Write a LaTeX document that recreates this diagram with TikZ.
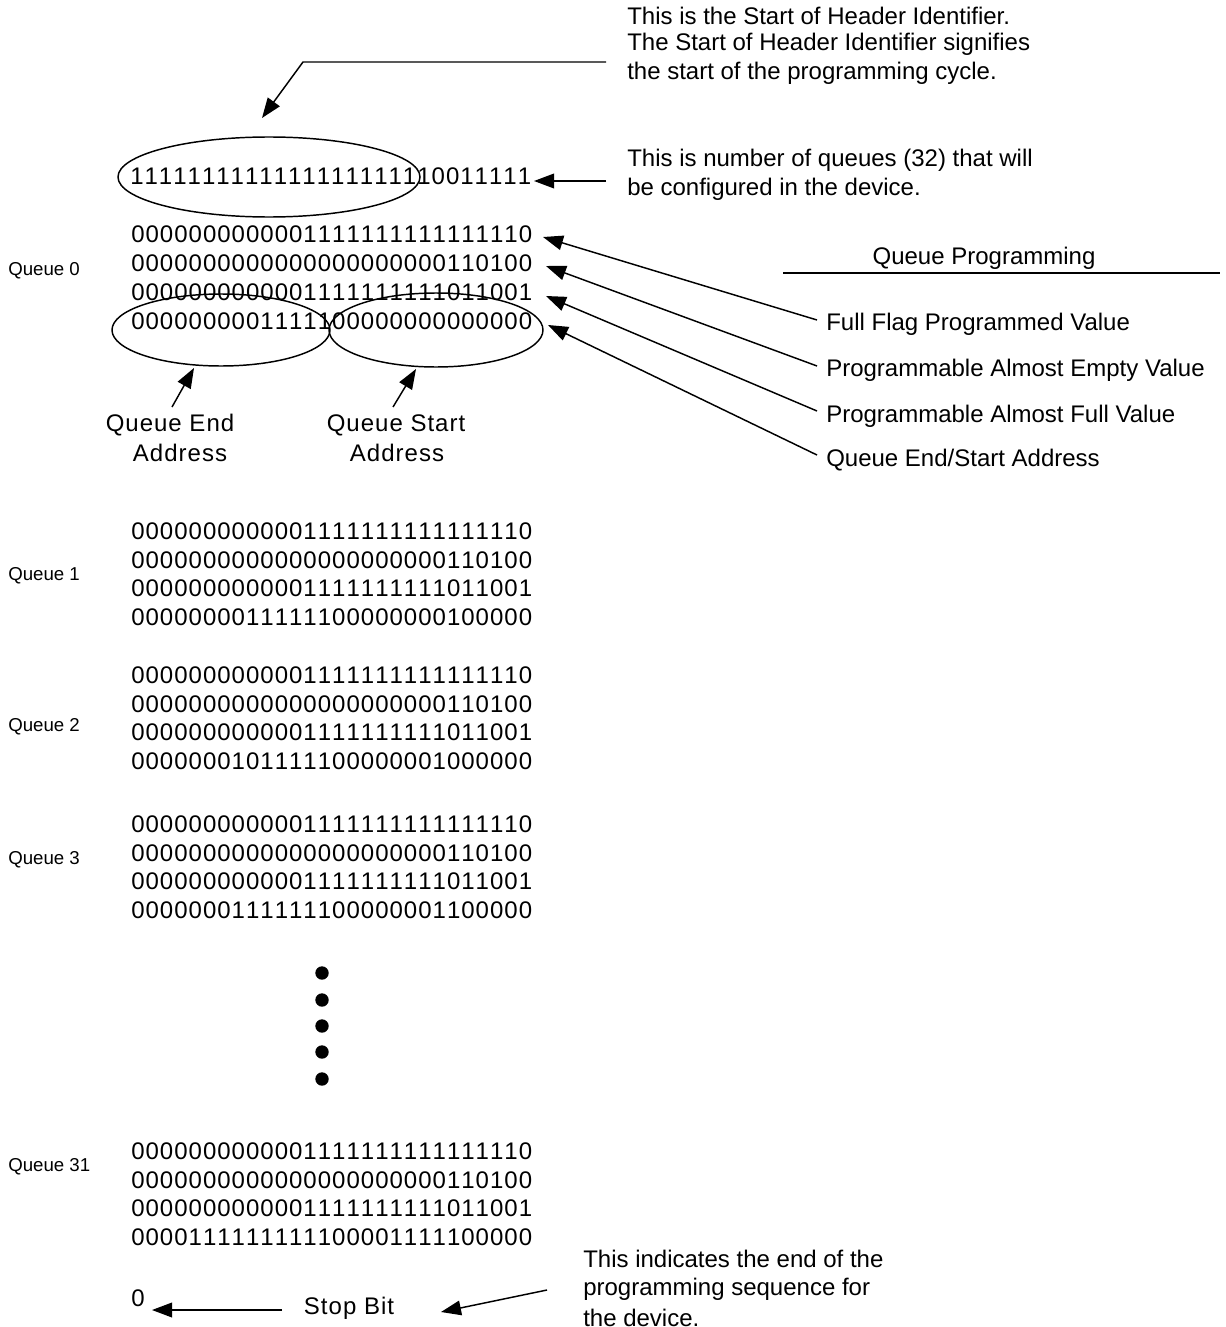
\documentclass[tikz,border=0pt]{standalone}
\usepackage{fontspec}
\setmainfont{Liberation Sans}
\newfontfamily\spacedfont[LetterSpace=4.2, Kerning=Off]{Liberation Sans}
\usetikzlibrary{arrows.meta}

\begin{document}
\begin{tikzpicture}[
  x=0.75pt, y=-0.75pt,
  bits/.style={font=\spacedfont\fontsize{18}{21}\selectfont, inner sep=0pt, anchor=west},
  caption/.style={font=\spacedfont\fontsize{18}{21}\selectfont, inner sep=0pt, anchor=center},
  note/.style={font=\fontsize{18}{21}\selectfont, inner sep=0pt, anchor=west},
  qname/.style={font=\fontsize{14}{17}\selectfont, inner sep=0pt, anchor=west},
  plain/.style={line width=1.1pt},
  link/.style={line width=1.1pt, -{Triangle[length=15pt,width=11pt]}},
]
\useasboundingbox (0,0) rectangle (1225,1327);

% ---- start of header identifier ----
\node[note] (hdrA) at (627,16) {This is the Start of Header Identifier.};
\node[note] (hdrB) at (627,44) {The Start of Header Identifier signifies};
\node[note] (hdrC) at (627,73) {the start of the programming cycle.};
\coordinate (hk1) at (606,62);
\coordinate (hk2) at (303,62);
\coordinate (hk3) at (262,118);
\draw[link] (hk1) -- (hk2) -- (hk3);

\node[bits] (hdr) at (130,176) {1111111111111111111110011111};
\draw[plain] (269,177) ellipse [x radius=151, y radius=40];

\node[note] (cntA) at (627,160) {This is number of queues (32) that will};
\node[note] (cntB) at (627,189) {be configured in the device.};
\coordinate (ck1) at (606,181);
\coordinate (ck2) at (534,181);
\draw[link] (ck1) -- (ck2);

% ---- queue 0 ----
\node[qname] (q0) at (8,271) {Queue 0};
\node[bits] (q0a) at (131,234) {0000000000001111111111111110};
\node[bits] (q0b) at (131,263) {0000000000000000000000110100};
\node[bits] (q0c) at (131,292) {0000000000001111111111011001};
\node[bits] (q0d) at (131,321) {0000000001111100000000000000};
\draw[plain] (221,330) ellipse [x radius=109, y radius=36];
\draw[plain] (436,330) ellipse [x radius=107, y radius=37];

\coordinate (ea) at (172,407);
\coordinate (eb) at (194,368);
\draw[link] (ea) -- (eb);
\coordinate (sa) at (393,407);
\coordinate (sb) at (416,369);
\draw[link] (sa) -- (sb);
\node[caption] (endA) at (170,425) {Queue End};
\node[caption] (endB) at (180,453) {Address};
\node[caption] (stA) at (396,425) {Queue Start};
\node[caption] (stB) at (397,453) {Address};

% ---- queue programming legend ----
\node[note, anchor=center] (qp) at (984,258) {Queue Programming};
\draw[plain] (783,273) -- (1220,273);
\node[note] (lf) at (826,324) {Full Flag Programmed Value};
\node[note] (le) at (826,370) {Programmable Almost Empty Value};
\node[note] (la) at (826,416) {Programmable Almost Full Value};
\node[note] (ls) at (826,460) {Queue End/Start Address};
\coordinate (lf0) at (817,320);
\coordinate (le0) at (817,366);
\coordinate (la0) at (817,411);
\coordinate (ls0) at (817,455);
\coordinate (lf1) at (543,237);
\coordinate (le1) at (546,266);
\coordinate (la1) at (546,296);
\coordinate (ls1) at (548,325);
\draw[link] (lf0) -- (lf1);
\draw[link] (le0) -- (le1);
\draw[link] (la0) -- (la1);
\draw[link] (ls0) -- (ls1);

% ---- queues 1, 2, 3 and 31 ----
\foreach \nm/\lab/\ly/\top/\last in {
    q1/Queue 1/576/531/0000000011111100000000100000,
    q2/Queue 2/727/675/0000000101111100000001000000,
    q3/Queue 3/860/824/0000000111111100000001100000,
    q31/Queue 31/1167/1151/0000111111111100001111100000}{
  \node[qname] (\nm) at (8,\ly) {\lab};
  \node[bits] (\nm a) at (131,\top) {0000000000001111111111111110};
  \node[bits] (\nm b) at (131,\top+28.8) {0000000000000000000000110100};
  \node[bits] (\nm c) at (131,\top+57.6) {0000000000001111111111011001};
  \node[bits] (\nm d) at (131,\top+86.4) {\last};
}

% ---- ellipsis between queues ----
\foreach \yy in {973,1000,1026,1052,1079}
  \fill (322,\yy) circle [radius=6.7];

% ---- stop bit ----
\node[bits] (stopv) at (131,1298) {0};
\node[caption] (stop) at (349,1308) {Stop Bit};
\coordinate (sk1) at (282,1310);
\coordinate (sk2) at (152,1310);
\draw[link] (sk1) -- (sk2);
\coordinate (sk3) at (547,1290);
\coordinate (sk4) at (441,1312);
\draw[link] (sk3) -- (sk4);
\node[note] (endA1) at (583,1259) {This indicates the end of the};
\node[note] (endA2) at (583,1289) {programming sequence for};
\node[note] (endA3) at (583,1318) {the device.};
\end{tikzpicture}
\end{document}
